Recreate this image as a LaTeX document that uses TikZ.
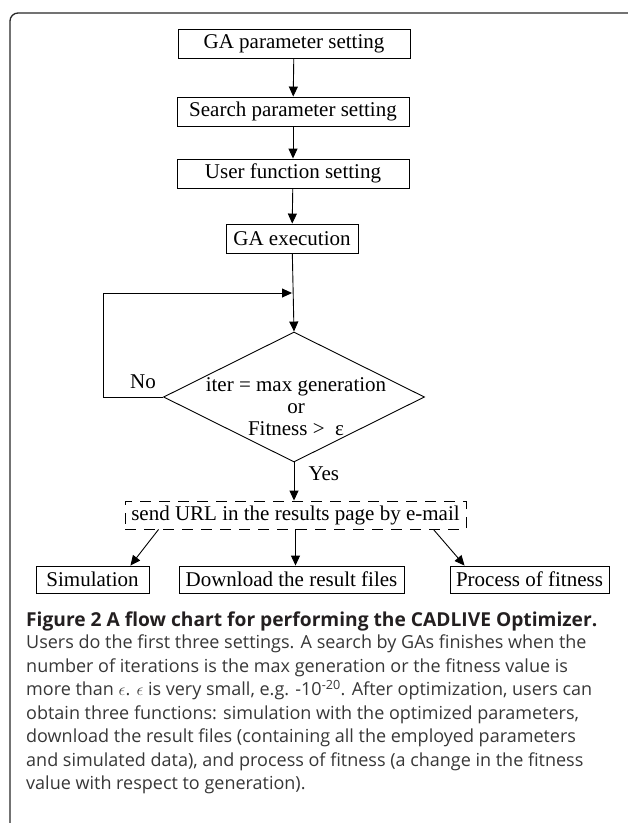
\documentclass[tikz,border=0pt]{standalone}
\usepackage{fontspec}
\setmainfont{Liberation Serif}
\newfontfamily\capfont{Open Sans}
\usetikzlibrary{shapes.geometric,arrows.meta}
\definecolor{framegray}{RGB}{40, 40, 40}
\definecolor{captext}{RGB}{35, 31, 32}
\definecolor{bodytext}{RGB}{55, 55, 55}

\tikzset{
	stepbox/.style={draw=black, line width=0.9pt, rectangle, inner sep=0pt, minimum height=29pt, font=\fontsize{21}{21}\selectfont},
	arr/.style={draw=black, line width=0.9pt, -{Triangle[length=10pt,width=9pt]}},
	line/.style={draw=black, line width=0.9pt}
}

\begin{document}
\begin{tikzpicture}[x=1pt, y=-1pt]
			\useasboundingbox (0, 0) rectangle (628, 823);
			% panel frame
			\draw [framegray, line width=1.3pt, rounded corners=8pt] (10, 823) -- (10, 13) -- (628, 13);

			% settings
			\node [stepbox, minimum width=232pt] (gaset) at (294, 43.5) {GA parameter setting};
			\node [stepbox, minimum width=232pt] (searchset) at (293, 111.5) {Search parameter setting};
			\node [stepbox, minimum width=232pt] (userset) at (293, 173.5) {User function setting};
			\node [stepbox, minimum width=132pt] (gaexec) at (292, 238.5) {GA execution};
			\coordinate (join) at (292, 293);

			% stop test
			\node [draw=black, line width=0.9pt, diamond, inner sep=0pt, minimum width=261pt, minimum height=130pt] (stoptest) at (294, 397) {};
			\node [align=center, font=\fontsize{21}{22}\selectfont] (stoptext) at (296, 407) {iter = max generation\\or\\Fitness >\ \ ε};

			% results
			\node [stepbox, dashed, dash pattern=on 11pt off 8pt, minimum width=341pt, minimum height=28pt] (mail) at (295.5, 515) {send URL in the results page by e-mail};
			\node [stepbox, minimum width=113pt, minimum height=27pt] (simul) at (92.5, 579.5) {Simulation};
			\node [stepbox, minimum width=225pt, minimum height=27pt] (download) at (291.5, 579.5) {Download the result files};
			\node [stepbox, minimum width=159pt, minimum height=27pt] (fitproc) at (529.5, 579.5) {Process of fitness};

			\draw [arr] (gaset) -- (searchset);
			\draw [arr] (searchset) -- (userset);
			\draw [arr] (userset) -- (gaexec);
			\draw [arr] (gaexec) -- (stoptest.north);
			\draw [arr] (stoptest.west) -- ++(-60, 0) |- (join);
			\node [font=\fontsize{21}{21}\selectfont] (nolabel) at (143, 382) {No};
			\draw [arr] (stoptest.south) -- (stoptest.south |- mail.north);
			\node [font=\fontsize{21}{21}\selectfont, anchor=west] (yeslabel) at (305, 474) {Yes};
			\draw [arr] ([xshift=34pt]mail.south west) -- ([xshift=-19pt]simul.north east);
			\draw [arr] (mail.south) -- (mail.south |- download.north);
			\draw [arr] ([xshift=-33pt]mail.south east) -- ([xshift=15pt]fitproc.north west);

			% caption
			\node [anchor=base west, inner sep=0pt, captext, font=\capfont\bfseries\fontsize{19.2}{19.2}\selectfont] (figtitle) at (26, 626) {Figure 2 A flow chart for performing the CADLIVE Optimizer.};
			\node [anchor=north west, inner sep=0pt, bodytext, align=left, font=\capfont\fontsize{18}{23.5}\selectfont] (figbody) at (26, 635) {Users do the first three settings. A search by GAs finishes when the\\
				number of iterations is the max generation or the fitness value is\\
				more than $\epsilon$. $\epsilon$ is very small, e.g. -10\textsuperscript{-20}. After optimization, users can\\
				obtain three functions: simulation with the optimized parameters,\\
				download the result files (containing all the employed parameters\\
				and simulated data), and process of fitness (a change in the fitness\\
				value with respect to generation).};
		\end{tikzpicture}
\end{document}
